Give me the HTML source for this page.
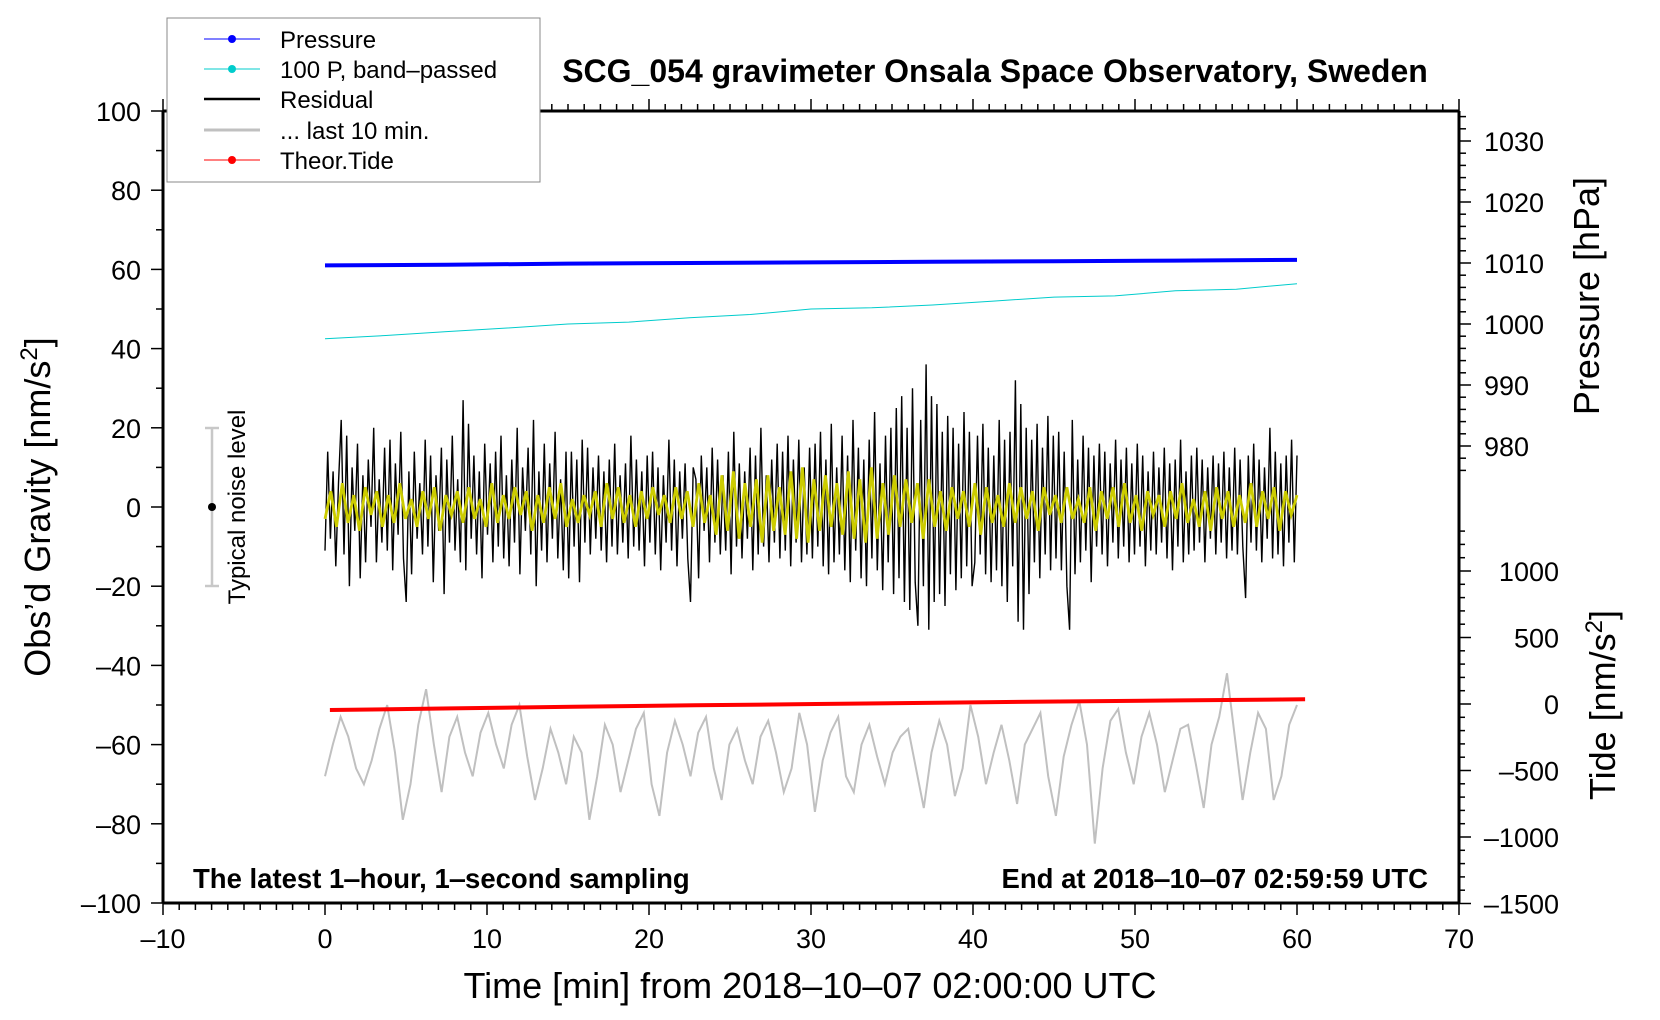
<!DOCTYPE html>
<html><head><meta charset="utf-8"><style>
html,body{margin:0;padding:0;background:#fff}
svg{display:block}
text{font-family:"Liberation Sans",sans-serif;fill:#000}
</style></head><body>
<svg id="chart" width="1660" height="1020" viewBox="0 0 1660 1020">
<g id="marks"></g>
<g id="axes"></g>
<text x="995" y="82" font-size="32" font-weight="bold" text-anchor="middle">SCG_054 gravimeter Onsala Space Observatory, Sweden</text>
<text x="193" y="888" font-size="27.5" font-weight="bold">The latest 1‒hour, 1‒second sampling</text>
<text x="1428" y="888" font-size="27.5" font-weight="bold" text-anchor="end">End at 2018‒10‒07 02:59:59 UTC</text>
<text x="810" y="998" font-size="36" text-anchor="middle">Time [min] from 2018‒10‒07 02:00:00 UTC</text>
<text transform="translate(50,507) rotate(-90)" font-size="36" text-anchor="middle">Obs’d Gravity [nm/s<tspan font-size="24" dy="-13">2</tspan><tspan dy="13">]</tspan></text>
<text transform="translate(1599,296) rotate(-90)" font-size="36" text-anchor="middle">Pressure [hPa]</text>
<text transform="translate(1615,705) rotate(-90)" font-size="36" text-anchor="middle">Tide [nm/s<tspan font-size="24" dy="-13">2</tspan><tspan dy="13">]</tspan></text>
<g>
<line x1="212" y1="428" x2="212" y2="586" stroke="#c8c8c8" stroke-width="2.5"/>
<line x1="205" y1="428" x2="219" y2="428" stroke="#c8c8c8" stroke-width="2.5"/>
<line x1="205" y1="586" x2="219" y2="586" stroke="#c8c8c8" stroke-width="2.5"/>
<circle cx="212" cy="507" r="4" fill="#000"/>
<text transform="translate(245,507) rotate(-90)" font-size="24" text-anchor="middle">Typical noise level</text>
</g>
<g>
<rect x="167" y="18" width="373" height="164" fill="#fff" stroke="#888" stroke-width="1"/>
<g><line x1="204" y1="39" x2="260" y2="39" stroke="#0000ff" stroke-width="1"/><circle cx="232" cy="39" r="4" fill="#0000ff"/><text x="280" y="48" font-size="24">Pressure</text></g>
<g><line x1="204" y1="69" x2="260" y2="69" stroke="#00cccc" stroke-width="1"/><circle cx="232" cy="69" r="4" fill="#00cccc"/><text x="280" y="78" font-size="24">100 P, band‒passed</text></g>
<g><line x1="204" y1="99" x2="260" y2="99" stroke="#000" stroke-width="2.5"/><text x="280" y="108" font-size="24">Residual</text></g>
<g><line x1="204" y1="130" x2="260" y2="130" stroke="#c0c0c0" stroke-width="3"/><text x="280" y="139" font-size="24">... last 10 min.</text></g>
<g><line x1="204" y1="160" x2="260" y2="160" stroke="#ff0000" stroke-width="1"/><circle cx="232" cy="160" r="4" fill="#ff0000"/><text x="280" y="169" font-size="24">Theor.Tide</text></g>
</g>
</svg>
<script>
const xTicks = [-10,0,10,20,30,40,50,60,70];
const yTicks = [100,80,60,40,20,0,-20,-40,-60,-80,-100];
const pTicks = [1030,1020,1010,1000,990,980];
const tideTicks = [1000,500,0,-500,-1000,-1500];
const pressureTimes = [0,7.5,15,22.5,30,37.5,45,52.5,60];
const pressureVals = [1009.6,1009.7,1009.9,1010.0,1010.1,1010.2,1010.3,1010.4,1010.5];
const bandTimes = [0,3.75,7.5,11.25,15,18.75,22.5,26.25,30,33.75,37.5,41.25,45,48.75,52.5,56.25,60];
const bandVals = [42.5,43.3,44.3,45.2,46.2,46.7,47.8,48.6,50.0,50.3,51.0,52.0,53.0,53.3,54.6,55.0,56.4];
const tideTimes = [0.3,7.8,15.3,22.8,30.3,37.8,45.3,52.8,60.5];
const tideVals = [-45,-33,-21,-10,0,10,19,27,35];
const residualVals = [
-11,14,-8,9,-15,6,22,-12,18,-20,10,-6,16,-18,8,-14,12,-5,20,-14,7,-9,15,-11,17,-16,11,-7,19,-13,
-24,9,-17,14,-8,6,-12,17,-10,13,-19,8,-6,15,-22,12,-9,18,-11,7,-14,27,-16,21,-8,13,-12,9,-18,16,
-7,11,-14,14,-10,18,-13,8,-15,12,-9,20,-17,10,-6,15,-12,22,-20,9,-11,16,-14,11,-8,19,-13,7,-16,14,
-18,14,-10,12,-19,17,-9,15,-12,10,-8,13,-11,9,-14,12,-10,16,-12,8,-9,11,-13,18,-10,12,-11,9,-15,13,
-9,14,-12,10,-16,8,-9,17,-11,12,-15,9,-8,11,-13,-24,10,7,-18,13,-6,10,-14,15,-9,12,-12,8,-11,14,
-17,19,-10,11,-13,9,-8,15,-16,13,-12,20,-10,8,-14,12,-9,16,-13,14,-11,18,-15,12,-9,17,-14,10,-12,15,
-13,16,-10,19,-15,12,-17,21,-14,10,-12,18,-16,13,-19,22,-11,15,-18,12,-20,17,-13,24,-16,11,-21,18,-14,20,
-22,25,-18,28,-24,20,-26,30,-19,-30,22,-20,36,-31,28,-24,26,-22,19,-25,23,-17,20,-21,16,-18,24,-15,19,-20,
-14,18,-12,21,-17,15,-19,13,-16,22,-20,17,-24,19,-15,32,-29,26,-31,20,-22,17,-14,21,-18,15,-12,23,-16,18,
-13,19,-16,14,-20,-31,22,-17,12,-14,18,-11,15,-19,13,-10,16,-12,14,-15,11,-9,17,-13,12,-10,15,-14,11,-12,
16,-10,13,-15,9,-11,14,-12,10,-9,15,-13,11,-16,12,-10,17,-14,9,-12,13,-11,15,-9,12,-14,10,-8,13,-12,
11,-9,14,-13,10,-11,15,-12,12,-10,-23,13,-9,16,-11,12,-14,10,-8,20,-13,14,-12,11,-15,13,-9,17,-14,13];
const yellowVals = [-3,4,-5,6,-4,3,-6,5,-2,4,-5,3,-4,6,-3,2,-5,4,-3,5,-6,3,-2,4,-4,5,-3,2,-5,6,-4,3,-3,5,-2,4,-6,3,-4,5,-3,6,-5,2,-4,3,-2,4,-5,6,-3,5,-4,3,-5,4,-3,5,-2,3,-4,5,-3,4,-5,6,-4,3,-7,8,-6,9,-8,6,-5,7,-9,8,-6,5,-7,9,-8,10,-9,7,-6,8,-5,6,-7,9,-8,7,-9,10,-8,6,-7,8,-5,7,-4,6,-8,7,-5,4,-6,5,-3,4,-5,6,-7,5,-4,3,-5,6,-4,5,-3,4,-6,5,-2,3,-4,5,-3,2,-4,5,-6,4,-3,5,-5,6,-4,3,-6,4,-2,3,-5,4,-3,6,-4,2,-5,4,-6,5,-3,4,-5,3,-4,6,-5,4,-3,5,-6,4,-2,3];
const grayVals = [-68,-60,-53,-58,-66,-70,-64,-56,-50,-62,-79,-70,-55,-46,-60,-72,-58,-53,-62,-68,-57,-52,-60,-66,-55,-50,-63,-74,-66,-56,-62,-70,-58,-62,-79,-68,-55,-60,-72,-64,-56,-52,-70,-78,-62,-54,-60,-68,-57,-53,-66,-74,-60,-56,-64,-70,-58,-54,-62,-72,-66,-52,-60,-77,-64,-57,-53,-68,-72,-60,-55,-63,-70,-62,-58,-56,-66,-76,-62,-54,-60,-73,-66,-50,-58,-70,-62,-55,-64,-75,-60,-56,-52,-68,-78,-63,-55,-49,-60,-85,-66,-54,-51,-62,-70,-58,-52,-60,-72,-64,-56,-55,-65,-76,-60,-53,-42,-58,-74,-62,-52,-56,-74,-68,-55,-50];

const L=163,R=1459,T=111,B=903;
const xs = t => L + (t+10)/80*(R-L);
const ys = v => 507 - v*(B-T)/200;
const ps = p => 263 - (p-1010)*6.1;
const ts = v => 704 - v*(199.5/1500);
const NS='http://www.w3.org/2000/svg';
const marks=document.getElementById('marks'), axes=document.getElementById('axes');
function mk(tag,attrs,parent){const e=document.createElementNS(NS,tag);for(const k in attrs)e.setAttribute(k,attrs[k]);parent.appendChild(e);return e;}
function pathFrom(times,vals,sx,sy){return times.map((t,i)=>(i?'L':'M')+sx(t).toFixed(1)+','+sy(vals[i]).toFixed(1)).join('');}
function idxTimes(arr,t0,t1){return arr.map((_,i)=>t0+(t1-t0)*i/(arr.length-1));}

let p;
p=mk('path',{d:pathFrom(idxTimes(grayVals,0,60),grayVals,xs,ys),fill:'none',stroke:'#c0c0c0','stroke-width':2},marks);


p=mk('path',{d:pathFrom(idxTimes(residualVals,0,60),residualVals,xs,ys),fill:'none',stroke:'#000','stroke-width':1.4},marks);


p=mk('path',{d:pathFrom(idxTimes(yellowVals,0,60),yellowVals,xs,ys),fill:'none',stroke:'#cccc00','stroke-width':2.8},marks);


p=mk('path',{d:pathFrom(bandTimes,bandVals,xs,ys),fill:'none',stroke:'#00cccc','stroke-width':1},marks);


p=mk('path',{d:pathFrom(pressureTimes,pressureVals,xs,ps),fill:'none',stroke:'#0000ff','stroke-width':4},marks);


p=mk('path',{d:pathFrom(tideTimes,tideVals,xs,ts),fill:'none',stroke:'#ff0000','stroke-width':4},marks);



mk('line',{x1:L,y1:T,x2:L,y2:B,stroke:'#000','stroke-width':3},axes);
mk('line',{x1:L,y1:B,x2:R,y2:B,stroke:'#000','stroke-width':3},axes);
mk('line',{x1:L,y1:T,x2:R,y2:T,stroke:'#000','stroke-width':3},axes);
mk('line',{x1:R,y1:T,x2:R,y2:B,stroke:'#000','stroke-width':3},axes);
for(let m=-10;m<=70;m++){const x=xs(m);const big=m%10===0;
 mk('line',{x1:x,y1:B,x2:x,y2:B+(big?12:7),stroke:'#000','stroke-width':1.5},axes);
 mk('line',{x1:x,y1:T,x2:x,y2:T-(big?12:7),stroke:'#000','stroke-width':1.5},axes);}
xTicks.forEach(v=>{const t=mk('text',{x:xs(v),y:B+45,'font-size':27,'text-anchor':'middle'},axes);t.textContent=String(v).replace('-','‒');
 
 });
for(let v=-100;v<=100;v+=10){const y=ys(v);mk('line',{x1:L,y1:y,x2:L-(v%20===0?12:7),y2:y,stroke:'#000','stroke-width':1.5},axes);}
yTicks.forEach(v=>{const t=mk('text',{x:L-22,y:ys(v)+10,'font-size':27,'text-anchor':'end'},axes);t.textContent=String(v).replace('-','‒');
 
 });
for(let v=976;v<=1034;v+=2){const y=ps(v);if(y<T)continue;mk('line',{x1:R,y1:y,x2:R+(v%10===0?12:7),y2:y,stroke:'#000','stroke-width':1.5},axes);}
pTicks.forEach(v=>{const t=mk('text',{x:R+25,y:ps(v)+10,'font-size':27},axes);t.textContent=v;
 
 });
for(let v=-1500;v<=1300;v+=100){const y=ts(v);if(y<T)continue;mk('line',{x1:R,y1:y,x2:R+(v%500===0?12:6),y2:y,stroke:'#000','stroke-width':1.5},axes);}
tideTicks.forEach(v=>{const t=mk('text',{x:1559,y:ts(v)+10,'font-size':27,'text-anchor':'end'},axes);t.textContent=String(v).replace('-','‒');
 
 });
</script>
</body></html>
